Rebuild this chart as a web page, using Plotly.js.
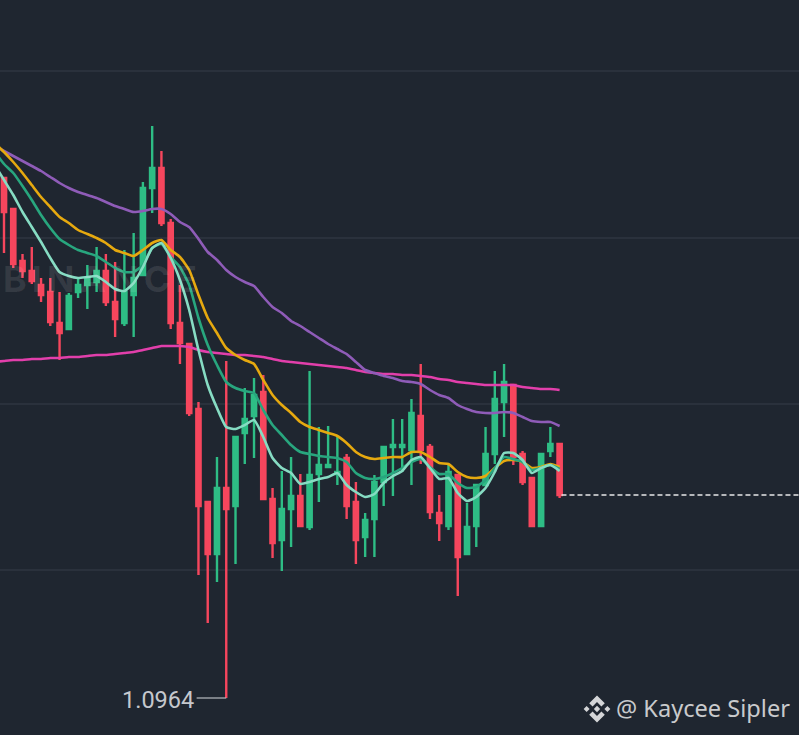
<!DOCTYPE html>
<html>
<head>
<meta charset="utf-8">
<script src="https://cdn.plot.ly/plotly-3.0.1.min.js"></script>
<style>html,body{margin:0;padding:0;background:#1f2630;overflow:hidden}#chart{width:799px;height:735px}</style>
</head>
<body>
<div id="chart"></div>
<script>
const high = [1.11200,1.11107,1.10972,1.10993,1.10900,1.10900,1.10858,1.10855,1.10897,1.10939,1.10993,1.10972,1.10948,1.10984,1.11035,1.11188,1.11356,1.11281,1.11077,1.10879,1.10705,1.10528,1.10228,1.10363,1.10651,1.10423,1.10570,1.10600,1.10609,1.10270,1.10321,1.10363,1.10312,1.10621,1.10453,1.10456,1.10423,1.10372,1.10288,1.10195,1.10309,1.10393,1.10477,1.10477,1.10537,1.10642,1.10402,1.10249,1.10339,1.10309,1.10225,1.10279,1.10453,1.10621,1.10642,1.10579,1.10381,1.10300,1.10372,1.10453,1.10402];
const low = [1.10975,1.10930,1.10900,1.10882,1.10828,1.10756,1.10654,1.10747,1.10840,1.10807,1.10858,1.10816,1.10723,1.10756,1.10723,1.10909,1.11095,1.11056,1.10747,1.10642,1.10486,1.10009,1.09865,1.09988,1.09640,1.10042,1.10342,1.10360,1.10237,1.10060,1.10021,1.10093,1.10156,1.10144,1.10228,1.10330,1.10279,1.10177,1.10042,1.10063,1.10063,1.10216,1.10246,1.10318,1.10279,1.10342,1.10177,1.10111,1.10144,1.09946,1.10072,1.10093,1.10279,1.10342,1.10423,1.10339,1.10279,1.10156,1.10156,1.10363,1.10240];
const open = [1.11200,1.11107,1.10951,1.10921,1.10879,1.10858,1.10765,1.10747,1.10858,1.10879,1.10888,1.10921,1.10828,1.10765,1.10849,1.10909,1.11170,1.11230,1.11065,1.10765,1.10702,1.10507,1.10228,1.10072,1.10270,1.10216,1.10435,1.10486,1.10558,1.10237,1.10114,1.10207,1.10246,1.10153,1.10312,1.10333,1.10312,1.10360,1.10228,1.10123,1.10177,1.10288,1.10393,1.10393,1.10384,1.10486,1.10393,1.10195,1.10156,1.10309,1.10072,1.10156,1.10279,1.10372,1.10528,1.10579,1.10372,1.10300,1.10156,1.10381,1.10402];
const close = [1.11098,1.10942,1.10921,1.10891,1.10849,1.10768,1.10735,1.10846,1.10879,1.10900,1.10921,1.10828,1.10777,1.10858,1.10900,1.11170,1.11230,1.11065,1.10765,1.10705,1.10495,1.10216,1.10072,1.10270,1.10207,1.10423,1.10477,1.10549,1.10237,1.10105,1.10207,1.10246,1.10156,1.10309,1.10339,1.10339,1.10318,1.10216,1.10114,1.10174,1.10288,1.10393,1.10399,1.10399,1.10495,1.10384,1.10198,1.10165,1.10318,1.10063,1.10153,1.10279,1.10372,1.10537,1.10588,1.10363,1.10288,1.10156,1.10372,1.10402,1.10249];

// moving averages, first value sits one candle left of the first candle
const maLight = [1.11239,1.11194,1.11149,1.11098,1.11053,1.11008,1.10960,1.10918,1.10906,1.10900,1.10903,1.10906,1.10888,1.10867,1.10861,1.10885,1.10933,1.10990,1.11005,1.10960,1.10894,1.10804,1.10684,1.10579,1.10510,1.10453,1.10447,1.10459,1.10474,1.10423,1.10360,1.10330,1.10315,1.10282,1.10288,1.10297,1.10303,1.10315,1.10279,1.10258,1.10243,1.10252,1.10285,1.10306,1.10321,1.10354,1.10363,1.10330,1.10297,1.10300,1.10255,1.10231,1.10243,1.10270,1.10318,1.10375,1.10375,1.10354,1.10315,1.10330,1.10339,1.10321];
const maGreen = [1.11278,1.11242,1.11215,1.11176,1.11134,1.11089,1.11050,1.11017,1.10999,1.10984,1.10975,1.10966,1.10948,1.10930,1.10918,1.10918,1.10939,1.10990,1.11002,1.10963,1.10933,1.10879,1.10780,1.10699,1.10639,1.10588,1.10570,1.10561,1.10555,1.10504,1.10459,1.10429,1.10399,1.10378,1.10372,1.10366,1.10363,1.10360,1.10348,1.10315,1.10300,1.10297,1.10303,1.10315,1.10330,1.10348,1.10357,1.10333,1.10312,1.10312,1.10285,1.10270,1.10273,1.10294,1.10330,1.10363,1.10357,1.10348,1.10324,1.10330,1.10339,1.10327];
const maYellow = [1.11305,1.11278,1.11248,1.11215,1.11179,1.11143,1.11113,1.11083,1.11065,1.11044,1.11032,1.11020,1.11005,1.10984,1.10975,1.10966,1.10984,1.11005,1.11014,1.10984,1.10963,1.10924,1.10849,1.10780,1.10735,1.10690,1.10669,1.10654,1.10642,1.10594,1.10549,1.10519,1.10495,1.10468,1.10453,1.10444,1.10435,1.10426,1.10405,1.10378,1.10363,1.10357,1.10360,1.10363,1.10363,1.10378,1.10378,1.10363,1.10345,1.10342,1.10318,1.10303,1.10300,1.10306,1.10330,1.10351,1.10354,1.10348,1.10330,1.10333,1.10342,1.10333];
const maPurple = [1.11296,1.11281,1.11266,1.11251,1.11236,1.11221,1.11203,1.11185,1.11170,1.11158,1.11149,1.11140,1.11128,1.11116,1.11107,1.11098,1.11101,1.11107,1.11107,1.11092,1.11068,1.11053,1.11017,1.10978,1.10954,1.10924,1.10903,1.10888,1.10876,1.10843,1.10813,1.10795,1.10771,1.10756,1.10738,1.10720,1.10702,1.10687,1.10672,1.10648,1.10624,1.10615,1.10606,1.10600,1.10591,1.10588,1.10582,1.10564,1.10549,1.10540,1.10519,1.10507,1.10498,1.10495,1.10495,1.10498,1.10495,1.10483,1.10471,1.10468,1.10468,1.10456];
const maMagenta = [1.10648,1.10651,1.10654,1.10654,1.10657,1.10657,1.10660,1.10660,1.10663,1.10663,1.10666,1.10669,1.10669,1.10672,1.10675,1.10678,1.10684,1.10690,1.10696,1.10696,1.10696,1.10693,1.10684,1.10678,1.10675,1.10672,1.10669,1.10669,1.10666,1.10663,1.10657,1.10651,1.10648,1.10645,1.10642,1.10639,1.10636,1.10633,1.10630,1.10624,1.10618,1.10615,1.10612,1.10612,1.10609,1.10609,1.10606,1.10603,1.10597,1.10594,1.10588,1.10585,1.10582,1.10579,1.10579,1.10579,1.10579,1.10573,1.10570,1.10567,1.10567,1.10564];

const gridPrices = [1.11521,1.11020,1.10522,1.10024];
const lowLabel = "1.0964";
const credit = "@ Kaycee Sipler";
const watermark = "BINANCE";

const W = 799, H = 735;
const candleX = open.map((_, i) => i);
const maX = maLight.map((_, i) => i - 1);
const xRange = [-0.432, 85.85];
const yRange = [1.09529, 1.11734];

function maTrace(y, color) {
  return {type:'scatter', mode:'lines', x:maX, y:y, hoverinfo:'skip',
          line:{color:color, width:2.6, shape:'spline', smoothing:0.5}};
}

const lowIdx = low.indexOf(Math.min(...low));
const lastClose = close[close.length - 1];

const traces = [
  {type:'candlestick', x:candleX, open:open, high:high, low:low, close:close,
   whiskerwidth:0, hoverinfo:'skip',
   increasing:{line:{color:'#2ebd85', width:2.4}, fillcolor:'#2ebd85'},
   decreasing:{line:{color:'#f6465d', width:2.4}, fillcolor:'#f6465d'}},
  maTrace(maMagenta, '#e23fab'),
  maTrace(maPurple, '#8f5cb8'),
  maTrace(maYellow, '#e6a90f'),
  maTrace(maGreen, '#28a67e'),
  maTrace(maLight, '#86dcc3'),
  {type:'scatter', mode:'lines', x:[60.2, xRange[1]], y:[lastClose, lastClose], hoverinfo:'skip',
   line:{color:'#e8e8e8', width:1.3, dash:'5px,3px'}},
  {type:'scatter', mode:'lines', x:[lowIdx, lowIdx - 3.2], y:[low[lowIdx], low[lowIdx]], hoverinfo:'skip',
   line:{color:'#b9bcc1', width:1.2}}
];

// Binance logo glyph, in page pixels converted to paper fractions
function poly(pts) {
  return 'M' + pts.map(p => (p[0] / W) + ',' + (1 - p[1] / H)).join('L') + 'Z';
}
function logoShapes(cx, cy) {
  const d = (x, y, r) => [[cx+x, cy+y-r],[cx+x+r, cy+y],[cx+x, cy+y+r],[cx+x-r, cy+y]];
  const chev = s => [[cx, cy+s*13.5],[cx+7.8, cy+s*5.7],[cx+4.4, cy+s*2.6],[cx, cy+s*7],[cx-4.4, cy+s*2.6],[cx-7.8, cy+s*5.7]];
  return [d(0,0,3.2), d(-10.4,0,3), d(10.4,0,3), chev(-1), chev(1)].map(p => ({
    type:'path', xref:'paper', yref:'paper', path:poly(p),
    fillcolor:'#d4d5d7', line:{width:0}, layer:'above'}));
}

const layout = {
  width:W, height:H, margin:{l:0,r:0,t:0,b:0,pad:0},
  paper_bgcolor:'#1f2630', plot_bgcolor:'#1f2630',
  showlegend:false, boxgap:0.34,
  xaxis:{type:'linear', range:xRange, visible:false, fixedrange:true, rangeslider:{visible:false}},
  yaxis:{range:yRange, tickmode:'array', tickvals:gridPrices, showticklabels:false, ticks:'',
         showgrid:true, gridcolor:'#2a313c', gridwidth:1.5, zeroline:false, showline:false, fixedrange:true},
  shapes:logoShapes(597, 709),
  annotations:[
    {xref:'x', yref:'y', x:lowIdx - 3.2, y:low[lowIdx], text:lowLabel, showarrow:false,
     xanchor:'right', yanchor:'middle', xshift:-1, yshift:-2,
     font:{family:'Roboto, sans-serif', size:23.5, color:'#c5c8cd'}},
    {xref:'paper', yref:'paper', x:792/W, y:1-708/H, text:credit, showarrow:false,
     xanchor:'right', yanchor:'middle',
     font:{family:'"Noto Sans", sans-serif', size:23.6, color:'#c9cacc'}},
    {xref:'paper', yref:'paper', x:1/W, y:1-279/H, text:'<span style="letter-spacing:5px">' + watermark + '</span>', showarrow:false,
     xanchor:'left', yanchor:'middle',
     font:{family:'Inter, sans-serif', size:36, weight:700, color:'rgba(255,255,255,0.095)'}}
  ]
};

Plotly.newPlot('chart', traces, layout, {displayModeBar:false, staticPlot:true});
</script>
</body>
</html>
